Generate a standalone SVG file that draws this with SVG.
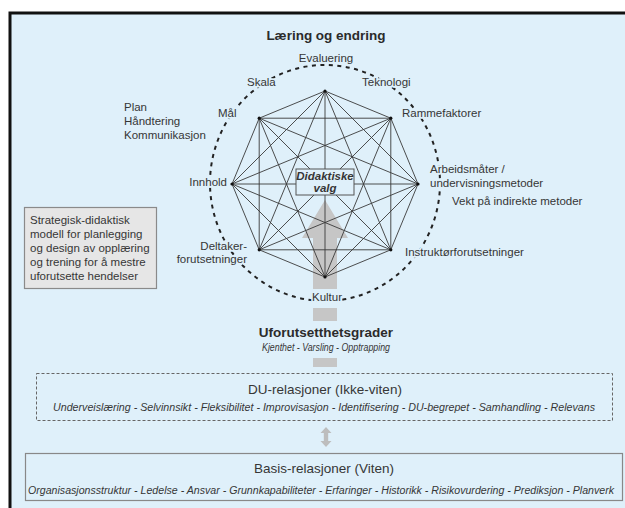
<svg xmlns="http://www.w3.org/2000/svg" width="625" height="508" viewBox="0 0 625 508">
<defs>
<style>
text{font-family:"Liberation Sans",Arial,sans-serif;fill:#363636}
.lbl{font-size:11.5px;stroke:#dff0fa;stroke-width:3.5;stroke-linejoin:round;paint-order:stroke}
.ttl{font-size:13.5px;font-weight:bold;fill:#2b2b2b}
.sub{font-size:13.5px}
.it{font-size:10px;font-style:italic}
.box{font-size:11.5px}
.oct{stroke:#3a3a3a;stroke-width:0.9;fill:none}
.gray{fill:#c6c6c6}
</style>
</defs>
<rect x="0" y="0" width="625" height="508" fill="#ffffff"/>
<rect x="10" y="13" width="620" height="500" fill="#dff0fa" stroke="#111" stroke-width="3"/>

<g id="arrow-main">
<path class="gray" d="M325,200 L348,238 L337,238 L337,289 L313,289 L313,238 L302,238 Z"/>
<rect class="gray" x="313" y="308" width="24" height="13"/>
<rect class="gray" x="313" y="358" width="24" height="9"/>
</g>

<g id="circle">
<ellipse cx="325" cy="183" rx="115" ry="118" fill="none" stroke="#222" stroke-width="2" stroke-dasharray="4 4.5"/>
</g>

<g id="connectors">
<path class="oct" d="M325,91 L390.8,118.2 L418,184 L390.8,249.8 L325,277 L259.2,249.8 L232,184 L259.2,118.2 Z
M325,91 L418,184 M325,91 L390.8,249.8 M325,91 L325,277 M325,91 L259.2,249.8 M325,91 L232,184
M390.8,118.2 L390.8,249.8 M390.8,118.2 L325,277 M390.8,118.2 L259.2,249.8 M390.8,118.2 L232,184 M390.8,118.2 L259.2,118.2
M418,184 L325,277 M418,184 L259.2,249.8 M418,184 L232,184 M418,184 L259.2,118.2
M390.8,249.8 L259.2,249.8 M390.8,249.8 L232,184 M390.8,249.8 L259.2,118.2
M325,277 L232,184 M325,277 L259.2,118.2
M259.2,249.8 L259.2,118.2"/>
<g fill="#111">
<circle cx="325" cy="91" r="1.6"/><circle cx="390.8" cy="118.2" r="1.6"/><circle cx="418" cy="184" r="1.6"/><circle cx="390.8" cy="249.8" r="1.6"/>
<circle cx="325" cy="277" r="1.6"/><circle cx="259.2" cy="249.8" r="1.6"/><circle cx="232" cy="184" r="1.6"/><circle cx="259.2" cy="118.2" r="1.6"/>
</g>
<path id="arrow-double" fill="#bdbdbd" d="M326,427 L331.5,433 L328.2,433 L328.2,441 L331.5,441 L326,447 L320.5,441 L323.8,441 L323.8,433 L320.5,433 Z"/>
</g>

<g id="node-title"><text class="ttl" x="326" y="40" text-anchor="middle">Læring og endring</text></g>

<g id="node-center">
<rect x="296" y="169" width="58" height="26" fill="#dff0fa" stroke="#555" stroke-width="1"/>
<text x="325" y="179.5" text-anchor="middle" font-size="11.5" font-weight="bold" font-style="italic">Didaktiske</text>
<text x="325" y="192" text-anchor="middle" font-size="11.5" font-weight="bold" font-style="italic">valg</text>
</g>

<g id="node-evaluering"><text class="lbl" x="326" y="62" text-anchor="middle">Evaluering</text></g>
<g id="node-skala"><text class="lbl" x="247" y="86">Skala</text></g>
<g id="node-teknologi"><text class="lbl" x="362" y="86">Teknologi</text></g>
<g id="node-mal"><text class="lbl" x="218" y="117">Mål</text></g>
<g id="node-rammefaktorer"><text class="lbl" x="402" y="117">Rammefaktorer</text></g>
<g id="node-plan">
<text class="lbl" x="124" y="111">Plan</text>
<text class="lbl" x="124" y="125">Håndtering</text>
<text class="lbl" x="124" y="139">Kommunikasjon</text>
</g>
<g id="node-arbeidsmater">
<text class="lbl" x="430" y="173">Arbeidsmåter /</text>
<text class="lbl" x="430" y="187">undervisningsmetoder</text>
</g>
<g id="node-vekt"><text class="lbl" x="452" y="205">Vekt på indirekte metoder</text></g>
<g id="node-innhold"><text class="lbl" x="227" y="186" text-anchor="end">Innhold</text></g>
<g id="node-deltaker">
<text class="lbl" x="247" y="250" text-anchor="end">Deltaker-</text>
<text class="lbl" x="247" y="263" text-anchor="end">forutsetninger</text>
</g>
<g id="node-instruktor"><text class="lbl" x="405" y="256">Instruktørforutsetninger</text></g>
<g id="node-kultur"><text class="lbl" x="327" y="301" text-anchor="middle">Kultur</text></g>

<g id="node-strategisk">
<rect x="24.5" y="207.5" width="132" height="81" fill="#e6e6e6" stroke="#8a8a8a" stroke-width="1.2"/>
<text class="box" x="30" y="224">Strategisk-didaktisk</text>
<text class="box" x="30" y="238">modell for planlegging</text>
<text class="box" x="30" y="252">og design av opplæring</text>
<text class="box" x="30" y="266">og trening for å mestre</text>
<text class="box" x="30" y="280">uforutsette hendelser</text>
</g>

<g id="node-uforutsett">
<text class="ttl" x="326" y="337" text-anchor="middle" font-size="14">Uforutsetthetsgrader</text>
<text class="it" x="326" y="351" text-anchor="middle" textLength="128" lengthAdjust="spacingAndGlyphs">Kjenthet - Varsling - Opptrapping</text>
</g>

<g id="node-du">
<rect x="36.5" y="373.5" width="576" height="47" fill="none" stroke="#666" stroke-width="1" stroke-dasharray="3 2"/>
<text class="sub" x="325" y="394" text-anchor="middle">DU-relasjoner (Ikke-viten)</text>
<text class="it" x="324" y="411" text-anchor="middle" textLength="542" lengthAdjust="spacingAndGlyphs">Underveislæring - Selvinnsikt - Fleksibilitet - Improvisasjon - Identifisering - DU-begrepet - Samhandling - Relevans</text>
</g>

<g id="node-basis">
<rect x="25.5" y="453.5" width="597" height="47" fill="none" stroke="#888" stroke-width="1.2"/>
<text class="sub" x="324" y="473" text-anchor="middle">Basis-relasjoner (Viten)</text>
<text class="it" x="321" y="494" text-anchor="middle" textLength="586" lengthAdjust="spacingAndGlyphs">Organisasjonsstruktur - Ledelse - Ansvar - Grunnkapabiliteter - Erfaringer - Historikk - Risikovurdering - Prediksjon - Planverk</text>
</g>
</svg>
